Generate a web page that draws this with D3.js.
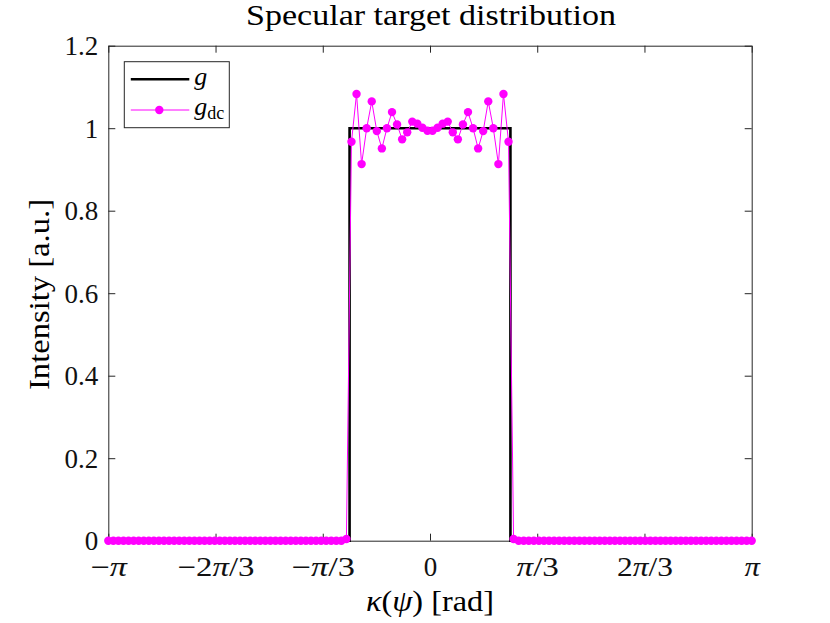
<!DOCTYPE html>
<html><head><meta charset="utf-8">
<script src="https://cdn.jsdelivr.net/npm/d3@7"></script>
<style>body{margin:0;background:#fff} svg{display:block}</style>
</head><body>
<svg id="chart" width="830" height="623"></svg>
<script>
// ---------------- data ----------------
const sampleCount = 128; // samples on [-pi, pi]
const gdcLeftTail = [0,0,0,0,0,0,0,0,0,0, 0,0,0,0,0,0,0,0,0,0, 0,0,0,0,0,0,0,0,0,0, 0,0,0,0,0,0,0,0,0,0, 0,0,0,0,0,0,0,0.004];
const gdcCore = [0.967, 1.083, 0.913, 1.000, 1.065, 0.993, 0.951, 1.000, 1.039, 1.009, 0.973, 0.990, 1.016, 1.011, 1.001, 0.994,
                 0.994, 1.001, 1.011, 1.016, 0.990, 0.973, 1.009, 1.039, 1.000, 0.951, 0.993, 1.065, 1.000, 0.913, 1.083, 0.967];
const gdcRightTail = [0.004,0,0,0,0,0,0,0,0,0, 0,0,0,0,0,0,0,0,0,0, 0,0,0,0,0,0,0,0,0,0, 0,0,0,0,0,0,0,0,0,0, 0,0,0,0,0,0,0,0];
const gdcValues = gdcLeftTail.concat(gdcCore, gdcRightTail);
const gX = [-Math.PI, -Math.PI/4, -Math.PI/4, Math.PI/4, Math.PI/4, Math.PI];
const gY = [0, 0, 1, 1, 0, 0];
const yTickValues = [0, 0.2, 0.4, 0.6, 0.8, 1, 1.2];
const xTickValues = [-Math.PI, -2*Math.PI/3, -Math.PI/3, 0, Math.PI/3, 2*Math.PI/3, Math.PI];
const xTickLabels = ["−π", "−2π/3", "−π/3", "0", "π/3", "2π/3", "π"];
const titleText = "Specular target distribution";

// ---------------- layout ----------------
const W = 830, H = 623;
const m = {l: 108.3, r: 78.3, t: 45.7, b: 82.3};
const FONT = "'Liberation Serif', 'Times New Roman', serif";
const AX = "#262626";
const TICKFS = 27;
// approximate Computer Modern advance widths (em) used to size tick labels like the LaTeX original
const cmWidth = {"−": 0.778, "π": 0.570, "/": 0.5, "0": 0.5, "2": 0.5, "3": 0.5};
const svg = d3.select("#chart");

const xGrid = d3.range(sampleCount).map(k => -Math.PI + k * 2 * Math.PI / (sampleCount - 1));
const x = d3.scaleLinear().domain([-Math.PI, Math.PI]).range([m.l, W - m.r]);
const y = d3.scaleLinear().domain([0, 1.2]).range([H - m.b, m.t]);

// axes (drawn below data)
const tk = 7;
const axB = svg.append("g").attr("transform", `translate(0,${H - m.b})`)
  .call(d3.axisBottom(x).tickValues(xTickValues).tickSizeInner(-tk).tickSizeOuter(0).tickFormat(""));
const axT = svg.append("g").attr("transform", `translate(0,${m.t})`)
  .call(d3.axisTop(x).tickValues(xTickValues).tickSizeInner(-tk).tickSizeOuter(0).tickFormat(""));
const axL = svg.append("g").attr("transform", `translate(${m.l},0)`)
  .call(d3.axisLeft(y).tickValues(yTickValues).tickSizeInner(-tk).tickSizeOuter(0).tickPadding(10)
    .tickFormat(d => d3.format("~g")(d)));
const axR = svg.append("g").attr("transform", `translate(${W - m.r},0)`)
  .call(d3.axisRight(y).tickValues(yTickValues).tickSizeInner(-tk).tickSizeOuter(0).tickFormat(""));
[axB, axT, axL, axR].forEach(a => {
  a.selectAll("path.domain").attr("stroke", AX).attr("stroke-width", 1);
  a.selectAll(".tick line").attr("stroke", AX).attr("stroke-width", 1);
});
axL.selectAll(".tick text").attr("font-family", FONT).attr("font-size", TICKFS).attr("fill", "#111")
  .attr("dy", "0.34em");

// x tick labels with italic pi
axB.selectAll(".tick").each(function(d, i) {
  const lab = xTickLabels[i];
  const w = Array.from(lab).reduce((s, c) => s + (cmWidth[c] || 0.5), 0) * TICKFS;
  const t = d3.select(this).append("text").attr("y", 35).attr("text-anchor", "middle")
    .attr("font-family", FONT).attr("font-size", TICKFS).attr("fill", "#111")
    .attr("textLength", w).attr("lengthAdjust", "spacingAndGlyphs");
  const parts = lab.split("π");
  parts.forEach((p, j) => {
    if (p) t.append("tspan").text(p);
    if (j < parts.length - 1) t.append("tspan").attr("font-style", "italic").text("π");
  });
});

// g (black step)
const gLine = d3.line().x((d, i) => x(gX[i])).y((d, i) => y(gY[i]));
svg.append("path").datum(gY).attr("d", gLine).attr("fill", "none")
  .attr("stroke", "#000").attr("stroke-width", 2.6).attr("stroke-linejoin", "miter");

// g_dc (magenta line + markers)
const MAG = "#ff00ff";
const dcLine = d3.line().x((d, i) => x(xGrid[i])).y(d => y(d));
svg.append("path").datum(gdcValues).attr("d", dcLine).attr("fill", "none")
  .attr("stroke", MAG).attr("stroke-width", 1);
svg.append("g").selectAll("circle").data(gdcValues).join("circle")
  .attr("cx", (d, i) => x(xGrid[i])).attr("cy", d => y(d)).attr("r", 4.2).attr("fill", MAG);

// title & labels
svg.append("text").attr("x", 431).attr("y", 25).attr("text-anchor", "middle")
  .attr("font-family", FONT).attr("font-size", 29).attr("fill", "#000")
  .attr("textLength", 370).attr("lengthAdjust", "spacingAndGlyphs").text(titleText);

const xl = svg.append("text").attr("x", 430).attr("y", 611).attr("text-anchor", "middle")
  .attr("font-family", FONT).attr("font-size", 29).attr("fill", "#000")
  .attr("textLength", 128).attr("lengthAdjust", "spacingAndGlyphs");
xl.append("tspan").attr("font-style", "italic").text("κ");
xl.append("tspan").text("(");
xl.append("tspan").attr("font-style", "italic").text("ψ");
xl.append("tspan").text(")  [rad]");

svg.append("text").attr("transform", `translate(49,294.5) rotate(-90)`)
  .attr("text-anchor", "middle").attr("font-family", FONT).attr("font-size", 29).attr("fill", "#000")
  .attr("textLength", 191).attr("lengthAdjust", "spacingAndGlyphs")
  .text("Intensity [a.u.]");

// legend
const lg = svg.append("g").attr("transform", `translate(${m.l + 16},${m.t + 16})`);
lg.append("rect").attr("x", 0).attr("y", 0).attr("width", 105).attr("height", 66)
  .attr("fill", "#fff").attr("stroke", AX).attr("stroke-width", 1);
lg.append("line").attr("x1", 6.5).attr("x2", 65).attr("y1", 17.6).attr("y2", 17.6)
  .attr("stroke", "#000").attr("stroke-width", 2.6);
lg.append("text").attr("x", 70).attr("y", 23).attr("font-family", FONT).attr("font-size", 26)
  .attr("font-style", "italic").text("g");
lg.append("line").attr("x1", 6.5).attr("x2", 65).attr("y1", 48.3).attr("y2", 48.3)
  .attr("stroke", MAG).attr("stroke-width", 1);
lg.append("circle").attr("cx", 35).attr("cy", 48.3).attr("r", 4.2).attr("fill", MAG);
const l2 = lg.append("text").attr("x", 70).attr("y", 53).attr("font-family", FONT).attr("font-size", 26);
l2.append("tspan").attr("font-style", "italic").text("g");
l2.append("tspan").attr("font-size", 18).attr("dy", 4).text("dc");
</script>
</body></html>
